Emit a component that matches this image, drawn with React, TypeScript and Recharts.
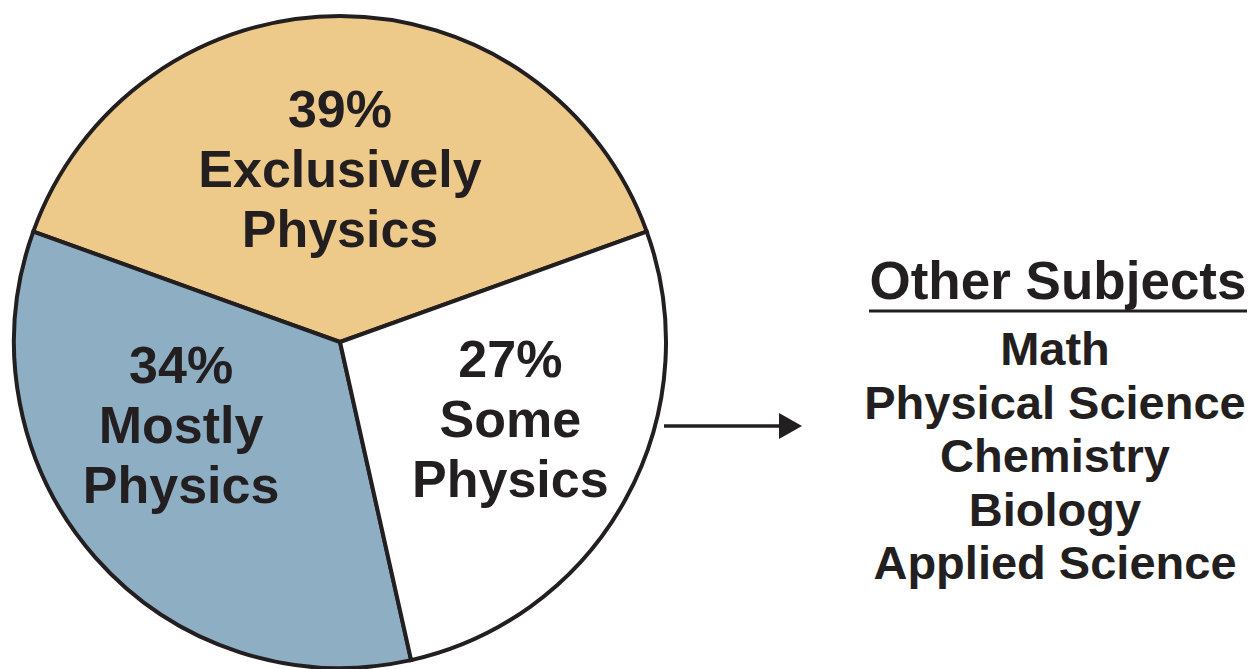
import { Cell, Pie, PieChart } from "recharts";

const categories = ["Exclusively Physics", "Mostly Physics", "Some Physics"];
const shares = [39, 34, 27];
const labelLines = [
  ["Exclusively", "Physics"],
  ["Mostly", "Physics"],
  ["Some", "Physics"],
];
const otherSubjects = ["Math", "Physical Science", "Chemistry", "Biology", "Applied Science"];

const colors = ["#EDC98A", "#8DAEC3", "#FFFFFF"];
const ink = "#231F20";
const font = "'Liberation Sans', Arial, Helvetica, sans-serif";

// where each label block sits: turn from the slice's mid angle (deg), radius as share of outer radius
const labelPlace = [
  { turn: 0, r: 0.533 },
  { turn: -14, r: 0.549 },
  { turn: 4.6, r: 0.573 },
];

const data = categories.map((name, i) => ({
  name,
  value: shares[i],
  lines: labelLines[i],
}));

const RAD = Math.PI / 180;

function renderLabel(props: any) {
  const { cx, cy, midAngle, outerRadius, index, value } = props;
  const place = labelPlace[index];
  const a = (midAngle + place.turn) * RAD;
  const x = cx + place.r * outerRadius * Math.cos(a);
  const y = cy - place.r * outerRadius * Math.sin(a);
  const base = y + 18.6;
  const lines = data[index].lines;
  return (
    <text
      x={x}
      y={base}
      textAnchor="middle"
      fill={ink}
      fontFamily={font}
      fontWeight="bold"
      fontSize={52}
    >
      <tspan x={x} y={base - 60}>{`${value}%`}</tspan>
      <tspan x={x} y={base}>{lines[0]}</tspan>
      <tspan x={x} y={base + 60}>{lines[1]}</tspan>
    </text>
  );
}

export default function App() {
  return (
    <div style={{ position: "absolute", left: 0, top: 0, width: 1255, height: 669, background: "#fff" }}>
      <PieChart width={1255} height={669} margin={{ top: 0, right: 0, bottom: 0, left: 0 }}>
        <Pie
          data={data}
          dataKey="value"
          nameKey="name"
          cx={340}
          cy={342}
          outerRadius={326}
          startAngle={19.8}
          endAngle={379.8}
          stroke={ink}
          strokeWidth={4}
          label={renderLabel}
          labelLine={false}
          isAnimationActive={false}
        >
          {data.map((d, i) => (
            <Cell key={d.name} fill={colors[i]} />
          ))}
        </Pie>
      </PieChart>

      <svg
        width={1255}
        height={669}
        style={{ position: "absolute", left: 0, top: 0, pointerEvents: "none" }}
      >
        <line x1={664} y1={426} x2={782} y2={426} stroke={ink} strokeWidth={3.5} />
        <polygon points="779,413 802,426 779,439" fill={ink} />

        <text
          x={1058}
          y={299}
          textAnchor="middle"
          fill={ink}
          fontFamily={font}
          fontWeight="bold"
          fontSize={53}
        >
          Other Subjects
        </text>
        <line x1={869} y1={311} x2={1247} y2={311} stroke={ink} strokeWidth={3} />

        {otherSubjects.map((s, i) => (
          <text
            key={s}
            x={1055}
            y={365 + i * 53.5}
            textAnchor="middle"
            fill={ink}
            fontFamily={font}
            fontWeight="bold"
            fontSize={47}
          >
            {s}
          </text>
        ))}
      </svg>
    </div>
  );
}
